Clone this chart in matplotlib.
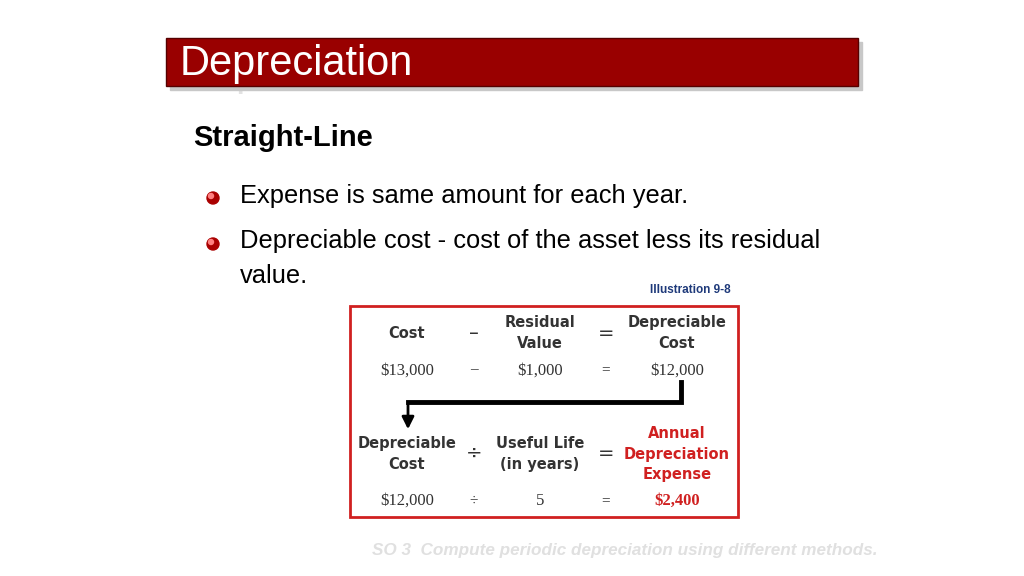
import matplotlib
matplotlib.use("Agg")
import matplotlib.pyplot as plt
from matplotlib.patches import Rectangle, Circle, FancyArrowPatch

title = "Depreciation"
subtitle = "Straight-Line"
bullets = ["Expense is same amount for each year.",
           "Depreciable cost - cost of the asset less its residual\nvalue."]
row1_heads = ["Cost", "Residual\nValue", "Depreciable\nCost"]
row1_vals = ["$13,000", "$1,000", "$12,000"]
row1_ops = ["\u2013", "="]
row2_heads = ["Depreciable\nCost", "Useful Life\n(in years)", "Annual\nDepreciation\nExpense"]
row2_vals = ["$12,000", "5", "$2,400"]
row2_ops = ["\u00f7", "="]
footer = "SO 3  Compute periodic depreciation using different methods."

fig = plt.figure(figsize=(10.24, 5.76), dpi=100)
ax = fig.add_axes([0, 0, 1, 1])
ax.set_xlim(0, 1024); ax.set_ylim(576, 0); ax.axis("off")
SANS = "Liberation Sans"

# title bar
ax.text(184, 74, title, fontsize=30, color="#e2e2e2", family=SANS, va="center", zorder=1)
ax.add_patch(Rectangle((170, 42), 692, 48, color="#c8c8c8", zorder=1.5))
ax.add_patch(Rectangle((166, 38), 692, 48, facecolor="#990000", edgecolor="#550000", lw=1, zorder=2))
ax.text(180, 64, title, fontsize=30, color="white", family=SANS, va="center", zorder=3)

ax.text(193, 138, subtitle, fontsize=21, weight="bold", family=SANS, va="center")
for y, t in zip([196, 242], bullets):
    ax.add_patch(Circle((213, y + 2), 6, color="#aa0000", zorder=3))
    ax.add_patch(Circle((211, y), 2.5, color="#ff8080", zorder=4))
    if "\n" in t:
        ax.text(240, y - 13, t, fontsize=18.4, family=SANS, va="top", linespacing=1.6)
    else:
        ax.text(240, y, t, fontsize=18.4, family=SANS, va="center")
ax.text(690, 290, "Illustration 9-8", fontsize=8.5, weight="bold", color="#1f3a7a",
        family=SANS, ha="center", va="center")

# box
ax.add_patch(Rectangle((350, 306), 388, 211, fill=False, edgecolor="#d02020", lw=2))
cols = [407, 540, 677]
opx = [474, 606]
TS = "DejaVu Sans"
for x, h in zip(cols, row1_heads):
    ax.text(x, 333, h, fontsize=10.5, weight="bold", color="#333333", family=TS, ha="center", va="center", linespacing=1.5)
for x, o in zip(opx, row1_ops):
    ax.text(x, 333, o, fontsize=14, color="#333333", ha="center", va="center")
for x, v in zip(cols, row1_vals):
    ax.text(x, 371, v, fontsize=12, family="Liberation Serif", color="#333333", ha="center", va="center")
for x, o in zip(opx, row1_ops):
    ax.text(x, 370, o, fontsize=11, color="#333333", family="Liberation Serif", ha="center", va="center")

ax.plot([681, 681, 408], [382, 402, 402], color="black", lw=3.5, solid_joinstyle="miter")
ax.add_patch(FancyArrowPatch((408, 402), (408, 432), arrowstyle="-|>", mutation_scale=18, color="black", lw=2))

for i, (x, h) in enumerate(zip(cols, row2_heads)):
    ax.text(x, 454, h, fontsize=10.5, weight="bold", color="#d02020" if i == 2 else "#333333",
            family=TS, ha="center", va="center", linespacing=1.5)
for x, o in zip(opx, row2_ops):
    ax.text(x, 453, o, fontsize=14, color="#333333", ha="center", va="center")
for i, (x, v) in enumerate(zip(cols, row2_vals)):
    ax.text(x, 501, v, fontsize=12, family="Liberation Serif", ha="center", va="center",
            color="#d02020" if i == 2 else "#333333", weight="bold" if i == 2 else "normal")
for x, o in zip(opx, row2_ops):
    ax.text(x, 501, o, fontsize=11, color="#333333", family="Liberation Serif", ha="center", va="center")

ax.text(877, 550, footer, fontsize=12.3, style="italic", weight="bold", color="#e0e0e0",
        family=SANS, ha="right", va="center")
fig.savefig("out.png", dpi=100)
